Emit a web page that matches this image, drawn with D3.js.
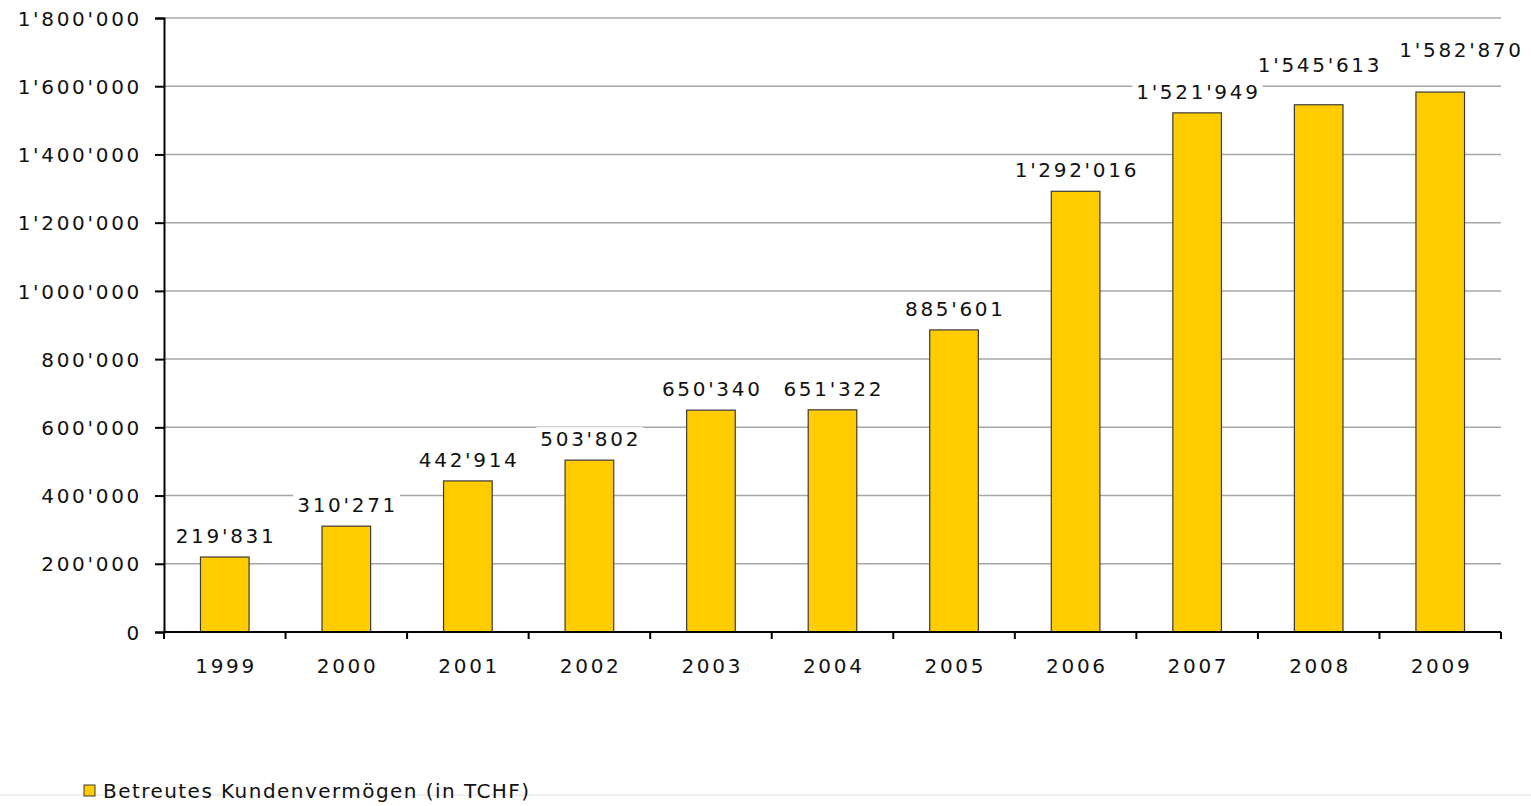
<!DOCTYPE html>
<html>
<head>
<meta charset="utf-8">
<script src="https://cdn.jsdelivr.net/npm/d3@7"></script>
<style>
  body { margin: 0; background: #fff; }
  svg text { font-family: "DejaVu Sans", Verdana, sans-serif; font-size: 20px; letter-spacing: 2.7px; fill: #111; }
</style>
</head>
<body>
<svg></svg>
<script>
const years = ["1999", "2000", "2001", "2002", "2003", "2004", "2005", "2006", "2007", "2008", "2009"];
const values = [219831, 310271, 442914, 503802, 650340, 651322, 885601, 1292016, 1521949, 1545613, 1582870];
const yTicks = [0, 200000, 400000, 600000, 800000, 1000000, 1200000, 1400000, 1600000, 1800000];
const seriesName = "Betreutes Kundenvermögen (in TCHF)";

const width = 1531;
const height = 806;

let svg = d3.select("svg").attr("width", width).attr("height", height);

const plotLeft = 164, plotRight = 1501, plotTop = 18, plotBottom = 632;

// Swiss style thousands separator
const fmt = (v) => d3.format(",")(v).replace(/,/g, "'");

const x = d3.scaleBand().domain(years).range([plotLeft, plotRight]).paddingInner(0.6).paddingOuter(0.3);
const xBound = d3.scaleLinear().domain([0, years.length]).range([plotLeft, plotRight]);
const y = d3.scaleLinear().domain([0, 1800000]).range([plotBottom, plotTop]);

// gridlines
svg.append("g")
  .selectAll("line")
  .data(yTicks.slice(1))
  .enter()
  .append("line")
  .attr("x1", plotLeft)
  .attr("x2", plotRight)
  .attr("y1", (d) => y(d))
  .attr("y2", (d) => y(d))
  .attr("stroke", "#a6a6a6")
  .attr("stroke-width", 1.5);

// y axis
const yAxis = d3.axisLeft(y).tickValues(yTicks).tickFormat(fmt).tickSize(9).tickPadding(13);
const gy = svg.append("g").attr("transform", `translate(${plotLeft},0)`).call(yAxis);
gy.select(".domain").attr("stroke", "#000").attr("stroke-width", 2);
gy.selectAll(".tick line").attr("stroke", "#000").attr("stroke-width", 2);
gy.selectAll("text").attr("font-size", null).attr("font-family", null).attr("dy", "0.36em").attr("fill", "#111");

// bars
svg.append("g")
  .selectAll("rect")
  .data(values)
  .enter()
  .append("rect")
  .attr("x", (d, i) => x(years[i]))
  .attr("y", (d) => y(d))
  .attr("width", x.bandwidth())
  .attr("height", (d) => plotBottom - y(d))
  .attr("fill", "#ffcc00")
  .attr("stroke", "#3a3a3a")
  .attr("stroke-width", 1.2);

// x axis
const gx = svg.append("g").attr("transform", `translate(0,${plotBottom})`);
gx.append("line").attr("x1", plotLeft).attr("x2", plotRight).attr("stroke", "#000").attr("stroke-width", 2);
gx.selectAll(".tk")
  .data(d3.range(years.length + 1))
  .enter()
  .append("line")
  .attr("x1", (d) => xBound(d))
  .attr("x2", (d) => xBound(d))
  .attr("y1", 0)
  .attr("y2", 7)
  .attr("stroke", "#000")
  .attr("stroke-width", 2);
gx.selectAll("text")
  .data(years)
  .enter()
  .append("text")
  .attr("x", (d) => x(d) + x.bandwidth() / 2 + 1.3)
  .attr("y", 41)
  .attr("text-anchor", "middle")
  .text((d) => d);

// value labels (Excel nudged the last two to avoid overlapping)
const nudge = { "2008": [0, -19], "2009": [20, -21] };
const labels = svg.append("g")
  .selectAll("g")
  .data(values)
  .enter()
  .append("g")
  .attr("transform", (d, i) => {
    const n = nudge[years[i]] || [0, 0];
    return `translate(${x(years[i]) + x.bandwidth() / 2 + 1.3 + n[0]},${y(d) - 14 + n[1]})`;
  });
labels.append("text")
  .attr("text-anchor", "middle")
  .text((d) => fmt(d));
labels.each(function () {
  const t = d3.select(this).select("text");
  const b = t.node().getBBox();
  d3.select(this).insert("rect", "text")
    .attr("x", b.x - 4).attr("y", b.y).attr("width", b.width + 6).attr("height", b.height)
    .attr("fill", "#fff");
});

// bottom border line
svg.append("line").attr("x1", 0).attr("x2", width).attr("y1", 795).attr("y2", 795)
  .attr("stroke", "#e0e0e0").attr("stroke-width", 1);

// legend
const lg = svg.append("g").attr("transform", "translate(84,785)");
lg.append("rect").attr("width", 11).attr("height", 11).attr("fill", "#ffcc00").attr("stroke", "#3a3a3a").attr("stroke-width", 1);
lg.append("text").attr("x", 19).attr("y", 13).style("letter-spacing", "1.45px").text(seriesName);
</script>
</body>
</html>
